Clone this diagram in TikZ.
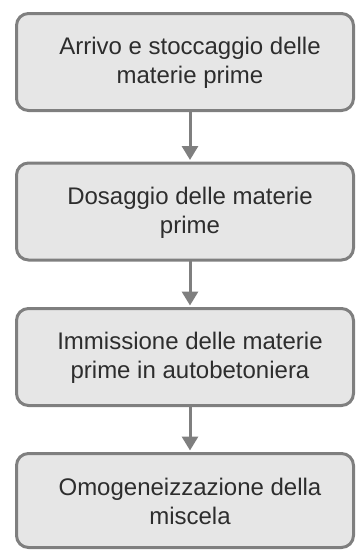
\documentclass[tikz,border=0pt]{standalone}
\usepackage{fontspec}
\setmainfont{Liberation Sans}
\usetikzlibrary{arrows.meta}
\definecolor{boxfill}{RGB}{230,230,230}
\definecolor{boxline}{RGB}{127,127,127}
\definecolor{txtc}{RGB}{45,45,45}
\begin{document}
\begin{tikzpicture}[x=1pt,y=1pt,
  stepbox/.style={draw=boxline, fill=boxfill, line width=3pt, rounded corners=12pt,
    minimum width=337pt, minimum height=97pt, inner sep=0pt},
  lastbox/.style={stepbox, minimum height=94pt},
  txt/.style={text=txtc, align=center, font=\fontsize{24pt}{29pt}\selectfont, inner sep=0pt},
  arr/.style={draw=boxline, line width=3pt, -{Triangle[length=14pt,width=16pt]}, shorten <=-1.5pt}]
\useasboundingbox (0,0) rectangle (357,-550);
\node[stepbox] (b1) at (185,-62) {};
\node[stepbox] (b2) at (185,-211.5) {};
\node[stepbox] (b3) at (185,-357) {};
\node[lastbox] (b4) at (185,-500.5) {};
\node[txt] (t1) at (190,-63) {Arrivo e stoccaggio delle\\materie prime};
\node[txt] (t2) at (190,-212.5) {Dosaggio delle materie\\prime};
\node[txt] (t3) at (190,-358) {Immissione delle materie\\prime in autobetoniera};
\node[txt] (t4) at (190,-501.5) {Omogeneizzazione della\\miscela};
\draw[arr] (b1.south -| t1) -- ([yshift=1.5pt]b2.north -| t1);
\draw[arr] (b2.south -| t2) -- ([yshift=1.5pt]b3.north -| t2);
\draw[arr] (b3.south -| t3) -- ([yshift=1.5pt]b4.north -| t3);
\end{tikzpicture}
\end{document}
